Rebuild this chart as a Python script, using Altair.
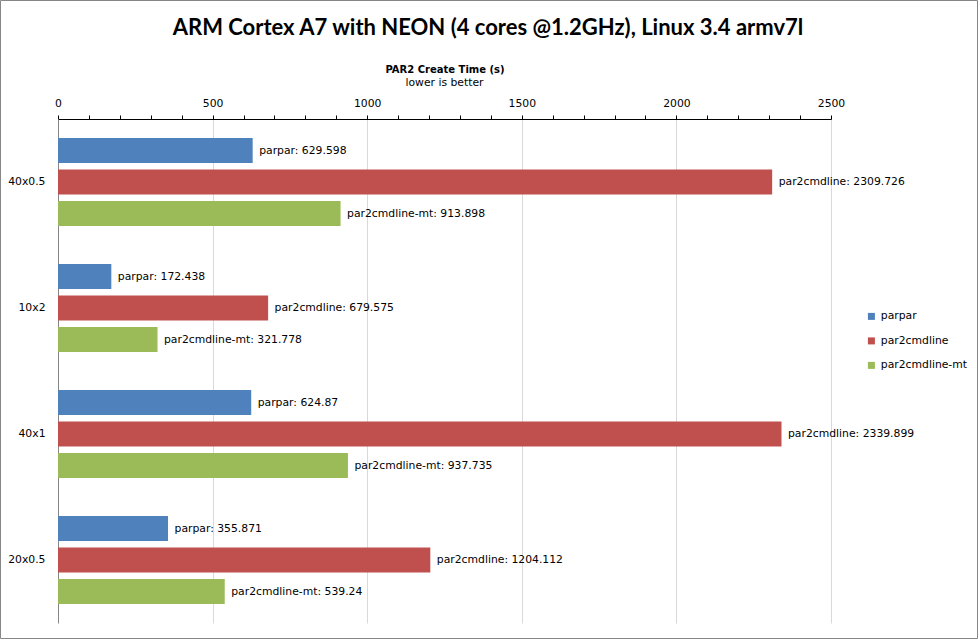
import altair as alt
import pandas as pd

categories = ["40x0.5", "10x2", "40x1", "20x0.5"]
series = ["parpar", "par2cmdline", "par2cmdline-mt"]
parpar = [629.598, 172.438, 624.87, 355.871]
par2cmdline = [2309.726, 679.575, 2339.899, 1204.112]
par2cmdline_mt = [913.898, 321.778, 937.735, 539.24]
colors = ["#4F81BD", "#C0504D", "#9BBB59"]
x_ticks = list(range(0, 2501, 100))
title_text = "ARM Cortex A7 with NEON (4 cores @1.2GHz), Linux 3.4 armv7l"

rows = []
for s, vals in zip(series, [parpar, par2cmdline, par2cmdline_mt]):
    for c, v in zip(categories, vals):
        rows.append({"test": c, "program": s, "time": v, "label": f"{s}: {v}"})
df = pd.DataFrame(rows)

FONT = "DejaVu Sans"
FS = 10.8
W, H = 773, 504

base = alt.Chart(df).encode(
    x=alt.X(
        "time:Q",
        scale=alt.Scale(domain=[0, 2500], nice=False, zero=True),
        axis=alt.Axis(
            orient="top", values=x_ticks, format="d",
            labelExpr="datum.value % 500 === 0 ? datum.label : ''",
            labelOverlap=False, labelFlush=False,
            labelFont=FONT, labelFontSize=FS, labelColor="black",
            labelPadding=7, tickSize=4, tickColor="black", domainColor="black",
            grid=True, gridColor="#d9d9d9",
            gridOpacity={"condition": {"test": "datum.value % 500 === 0 && datum.value > 0", "value": 1}, "value": 0},
            title="PAR2 Create Time (s)", titleFont=FONT, titleFontSize=10,
            titleFontWeight="bold", titleColor="black", titlePadding=23,
        ),
    ),
    y=alt.Y(
        "test:N", sort=categories,
        scale=alt.Scale(paddingInner=0, paddingOuter=0),
        axis=alt.Axis(title=None, ticks=False, labelPadding=13, domainColor="#868686",
                      labelFontSize=FS, labelFont=FONT, labelColor="black"),
    ),
    yOffset=alt.YOffset("program:N", sort=series,
                        scale=alt.Scale(paddingInner=0.2, paddingOuter=0.6)),
)

bars = base.mark_bar().encode(
    color=alt.Color(
        "program:N", sort=series,
        scale=alt.Scale(domain=series, range=colors),
        legend=alt.Legend(orient="none", legendX=808, legendY=192, title=None,
                          symbolType="square", symbolSize=49, symbolStrokeWidth=0,
                          labelFont=FONT, labelFontSize=FS, labelColor="black",
                          rowPadding=12.5, padding=0, labelOffset=4),
    ),
)

labels = base.mark_text(align="left", baseline="middle", dx=6.5, font=FONT,
                        fontSize=FS, color="black").encode(text="label:N")

sub = alt.Chart(pd.DataFrame({"t": ["lower is better"]})).mark_text(
    font=FONT, fontSize=FS, color="black", baseline="middle", align="center"
).encode(x=alt.value(W / 2), y=alt.value(-36), text="t:N")

main_title = alt.Chart(pd.DataFrame({"t": [title_text]})).mark_text(
    font="Lato", fontSize=22, fontWeight="bold", color="black",
    baseline="middle", align="center"
).encode(x=alt.value(488 - 58), y=alt.value(28 - 119), text="t:N")

frame = alt.Chart(pd.DataFrame({"a": [0]})).mark_rect(
    fill="transparent", stroke="#868686", strokeWidth=1
).encode(x=alt.value(-57.5), x2=alt.value(919.5), y=alt.value(-118.5), y2=alt.value(519.5))

chart = alt.layer(bars, labels, sub, main_title, frame).properties(
    width=W, height=H,
    autosize=alt.AutoSizeParams(type="none"),
    padding={"left": 58, "top": 119, "right": 147, "bottom": 16},
).configure_view(stroke=None)

chart.save("out.html", embed_options={"renderer": "svg", "actions": False})
